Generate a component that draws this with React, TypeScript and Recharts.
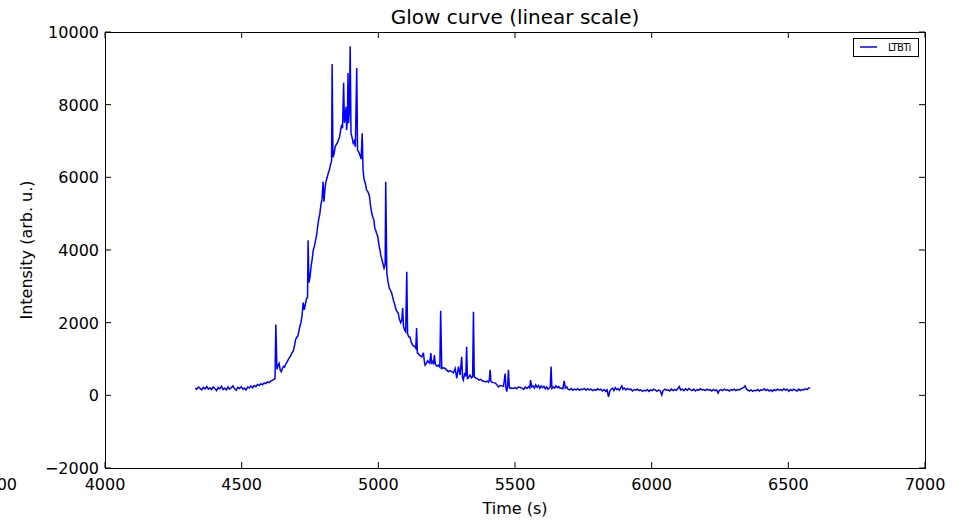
import { LineChart, Line, XAxis, YAxis, Legend } from 'recharts'

// [time (s), intensity (arb. u.)], split by curve region
const PRE_RISE: [number, number][] = [
  [4330, 200], [4336, 170], [4342, 230], [4348, 190], [4354, 150], [4360, 220], [4366, 180],
  [4372, 240], [4378, 170], [4384, 210], [4390, 160], [4396, 230], [4402, 190], [4408, 130],
  [4414, 220], [4420, 180], [4426, 250], [4432, 160], [4438, 200], [4444, 150], [4450, 230],
  [4456, 170], [4462, 210], [4468, 260], [4474, 180], [4480, 140], [4486, 220], [4492, 190],
  [4498, 240], [4504, 170], [4510, 200], [4516, 150], [4522, 230], [4528, 200], [4534, 260],
  [4540, 210], [4546, 270], [4552, 240], [4558, 300], [4564, 270], [4570, 320], [4576, 290],
  [4582, 340], [4588, 320], [4594, 370], [4600, 350], [4606, 390], [4612, 410], [4618, 440],
  [4622, 460],
]

const RISE: [number, number][] = [
  [4625, 1950], [4629, 720], [4633, 820], [4637, 880], [4641, 700], [4645, 650], [4649, 740],
  [4653, 800], [4657, 780], [4661, 860], [4665, 900], [4669, 960], [4673, 1020], [4677, 1060],
  [4681, 1120], [4685, 1180], [4689, 1220], [4693, 1350], [4697, 1520], [4701, 1600],
  [4705, 1620], [4709, 1750], [4713, 1900], [4717, 2000], [4721, 2200], [4725, 2550],
  [4729, 2350], [4733, 2500], [4737, 2650], [4741, 2700], [4743, 4270], [4746, 3100],
  [4750, 3250], [4754, 3550], [4758, 3750], [4762, 4000], [4766, 4100], [4770, 4250],
  [4774, 4400], [4778, 4650], [4782, 4850], [4786, 5000], [4790, 5250], [4794, 5400],
  [4798, 5880], [4801, 5330], [4805, 5700], [4809, 5900], [4813, 6000], [4817, 6120],
  [4821, 6200], [4825, 6350], [4829, 6450], [4831, 9120], [4834, 6550],
]

const PEAK: [number, number][] = [
  [4838, 6650], [4842, 6840], [4846, 6900], [4850, 6950], [4854, 7030], [4858, 7100],
  [4862, 7300], [4866, 7450], [4869, 7350], [4873, 8600], [4876, 7500], [4879, 7650],
  [4882, 7940], [4884, 7300], [4887, 7600], [4889, 8870], [4891, 7490], [4894, 7800],
  [4897, 9610], [4900, 7210], [4904, 7100], [4908, 6940], [4912, 7000], [4916, 6840],
  [4921, 9010], [4924, 6750], [4928, 6700], [4933, 6610], [4937, 6500], [4941, 7210],
  [4944, 6200], [4948, 5930], [4952, 5850], [4957, 5650], [4962, 5600], [4967, 5500],
]

const DECAY: [number, number][] = [
  [4971, 5250], [4976, 5010], [4980, 4900], [4984, 4820], [4987, 4600], [4990, 4550],
  [4994, 4450], [4998, 4370], [5002, 4150], [5006, 4000], [5009, 3850], [5012, 3770],
  [5016, 3650], [5021, 3500], [5025, 3600], [5027, 5880], [5031, 3370], [5035, 3150],
  [5040, 2950], [5044, 2900], [5049, 2810], [5055, 2620], [5060, 2500], [5065, 2350],
  [5069, 2300], [5073, 2260], [5077, 2100], [5082, 2000], [5086, 2070], [5089, 2400],
  [5092, 1900], [5096, 1800], [5100, 1750], [5104, 3400], [5107, 1700], [5111, 1610],
  [5116, 1600], [5121, 1450], [5126, 1380], [5130, 1350], [5134, 1340], [5137, 1300],
  [5140, 1850], [5143, 1160], [5147, 1150], [5151, 1100], [5155, 1080], [5159, 1060],
  [5165, 1170], [5168, 960], [5171, 830], [5176, 880], [5180, 950], [5183, 930],
  [5188, 880], [5192, 1160], [5195, 900], [5198, 930], [5202, 850], [5205, 1110],
  [5208, 880], [5211, 830], [5215, 800], [5220, 830], [5225, 780], [5228, 2330],
  [5232, 740], [5238, 760], [5244, 740], [5250, 700], [5256, 650], [5262, 680],
  [5269, 650], [5275, 620], [5281, 740], [5287, 470], [5293, 790], [5299, 560],
  [5305, 1060], [5308, 480], [5311, 420], [5316, 620], [5320, 520], [5323, 1340],
  [5326, 460], [5329, 470], [5335, 560], [5341, 480], [5345, 520], [5348, 2300],
  [5351, 510], [5356, 480], [5362, 460], [5368, 420], [5374, 440], [5380, 400],
  [5386, 390], [5392, 370], [5398, 390], [5403, 360], [5406, 420], [5409, 700],
  [5412, 380], [5416, 360], [5421, 350], [5427, 340], [5433, 300], [5439, 230],
  [5445, 270], [5452, 260], [5458, 250], [5464, 600], [5467, 200], [5470, 100],
  [5473, 240], [5476, 700], [5479, 250], [5482, 190], [5488, 200], [5494, 190],
  [5500, 210], [5506, 180], [5512, 230], [5518, 220],
]

const TAIL: [number, number][] = [
  [5525, 200], [5532, 170], [5538, 230], [5544, 190], [5550, 240], [5554, 200], [5557, 420],
  [5561, 230], [5566, 260], [5571, 200], [5576, 290], [5581, 220], [5586, 270], [5591, 190],
  [5596, 260], [5601, 210], [5606, 250], [5611, 180], [5616, 230], [5621, 170], [5626, 210],
  [5629, 230], [5632, 790], [5635, 190], [5640, 230], [5645, 200], [5650, 260], [5655, 210],
  [5660, 240], [5665, 190], [5670, 200], [5675, 180], [5680, 400], [5684, 200], [5689, 230],
  [5694, 170], [5700, 150], [5706, 190], [5712, 140], [5718, 170], [5724, 150], [5730, 180],
  [5736, 140], [5742, 170], [5748, 160], [5754, 190], [5760, 140], [5766, 180], [5772, 150],
  [5778, 170], [5784, 130], [5790, 160], [5796, 140], [5802, 180], [5808, 150], [5814, 170],
  [5820, 120], [5826, 160], [5832, 110], [5837, 150], [5842, -40], [5847, 120], [5852, 170],
  [5857, 200], [5862, 130], [5867, 210], [5872, 160], [5877, 180], [5882, 140], [5887, 210],
  [5891, 260], [5895, 170], [5900, 200], [5906, 150], [5912, 190], [5918, 160], [5924, 170],
  [5930, 120], [5936, 160], [5942, 140], [5948, 170], [5954, 130], [5960, 150], [5966, 110],
  [5972, 140], [5978, 120], [5984, 160], [5990, 110], [5996, 150], [6002, 130], [6008, 170],
  [6014, 140], [6020, 110], [6026, 150], [6032, 120], [6037, 10], [6042, 130], [6048, 170],
  [6054, 140], [6060, 150], [6066, 120], [6072, 170], [6078, 130], [6084, 160], [6090, 140],
  [6096, 190], [6101, 240], [6106, 150], [6112, 170], [6118, 130], [6124, 180], [6130, 140],
  [6136, 190], [6142, 150], [6148, 130], [6154, 170], [6160, 120], [6166, 160], [6172, 140],
  [6178, 180], [6184, 150], [6190, 160], [6196, 130], [6202, 170], [6208, 140], [6214, 150],
  [6220, 120], [6226, 160], [6232, 130], [6238, 150], [6243, 60], [6248, 140], [6254, 160],
  [6260, 130], [6266, 170], [6272, 140], [6278, 150], [6284, 120], [6290, 160], [6296, 140],
  [6302, 170], [6308, 130], [6314, 160], [6320, 150], [6326, 180], [6332, 200], [6337, 220],
  [6342, 260], [6347, 170], [6352, 140], [6358, 120], [6364, 150], [6370, 110], [6376, 140],
  [6382, 130], [6388, 160], [6394, 120], [6400, 150], [6406, 140], [6412, 180], [6418, 130],
  [6424, 160], [6430, 120], [6436, 150], [6442, 110], [6448, 160], [6454, 130], [6460, 170],
  [6466, 140], [6472, 160], [6478, 130], [6484, 180], [6490, 140], [6496, 170], [6502, 110],
  [6508, 160], [6514, 130], [6520, 170], [6526, 140], [6532, 120], [6538, 170], [6544, 130],
  [6550, 160], [6556, 150], [6562, 180], [6568, 160], [6574, 200], [6580, 210],
]

const X_TICKS = [4000, 4500, 5000, 5500, 6000, 6500, 7000]
const Y_TICKS = [-2000, 0, 2000, 4000, 6000, 8000, 10000]

const glowData = [...PRE_RISE, ...RISE, ...PEAK, ...DECAY, ...TAIL].map(([t, v]) => ({ t, LTBTi: v }))

// plot box in page pixels
const W = 958
const H = 520
const PLOT = { left: 105, top: 32, right: 925, bottom: 468 }
const FONT = '"DejaVu Sans", sans-serif'
const TICK_LEN = 6
const BLUE = '#0000ff'

const fmt = (v: number) => (v < 0 ? '\u2212' + Math.abs(v) : String(v))

function XTick({ x, payload }: any) {
  return (
    <g>
      <line x1={x} x2={x} y1={PLOT.bottom} y2={PLOT.bottom - TICK_LEN} stroke="#000" />
      <line x1={x} x2={x} y1={PLOT.top} y2={PLOT.top + TICK_LEN} stroke="#000" />
      <text x={x} y={PLOT.bottom + 22} textAnchor="middle" fontSize={16} fontFamily={FONT} fill="#000">
        {fmt(payload.value)}
      </text>
    </g>
  )
}

function YTick({ y, payload }: any) {
  return (
    <g>
      <line x1={PLOT.left} x2={PLOT.left + TICK_LEN} y1={y} y2={y} stroke="#000" />
      <line x1={PLOT.right} x2={PLOT.right - TICK_LEN} y1={y} y2={y} stroke="#000" />
      <text x={PLOT.left - 6} y={y + 6} textAnchor="end" fontSize={16} fontFamily={FONT} fill="#000">
        {fmt(payload.value)}
      </text>
    </g>
  )
}

function LegendBox() {
  return (
    <svg width={66} height={19} style={{ position: 'absolute', left: 853, top: 38 }}>
      <rect x={0.5} y={0.5} width={65} height={18} fill="#fff" stroke="#000" />
      <line x1={7} x2={24} y1={9} y2={9} stroke={BLUE} strokeWidth={1.5} />
      <text x={35} y={13} fontSize={10} fontFamily={FONT} letterSpacing={-0.6} fill="#000">
        LTBTi
      </text>
    </svg>
  )
}

export default function App() {
  return (
    <div style={{ position: 'absolute', left: 0, top: 0, width: W, height: H, background: '#fff', overflow: 'hidden' }}>
      <LineChart
        width={W}
        height={H}
        data={glowData}
        margin={{ top: PLOT.top, right: W - PLOT.right, bottom: 0, left: 0 }}
      >
        <XAxis
          dataKey="t"
          type="number"
          domain={[4000, 7000]}
          ticks={X_TICKS}
          interval={0}
          allowDataOverflow
          axisLine={false}
          tickLine={false}
          tickSize={0}
          height={H - PLOT.bottom}
          tick={<XTick />}
        />
        <YAxis
          type="number"
          domain={[-2000, 10000]}
          ticks={Y_TICKS}
          interval={0}
          allowDataOverflow
          axisLine={false}
          tickLine={false}
          tickSize={0}
          width={PLOT.left}
          tick={<YTick />}
        />
        <Legend content={() => null} />
        <Line
          type="linear"
          dataKey="LTBTi"
          stroke={BLUE}
          strokeWidth={1.5}
          dot={false}
          isAnimationActive={false}
        />
      </LineChart>

      {/* axes frame */}
      <div
        style={{
          position: 'absolute',
          left: PLOT.left,
          top: PLOT.top,
          width: PLOT.right - PLOT.left + 1,
          height: PLOT.bottom - PLOT.top + 1,
          boxSizing: 'border-box',
          border: '1px solid #000',
          pointerEvents: 'none',
        }}
      />

      <svg width={W} height={H} style={{ position: 'absolute', left: 0, top: 0, pointerEvents: 'none' }}>
        <text x={(PLOT.left + PLOT.right) / 2} y={24} textAnchor="middle" fontSize={20} fontFamily={FONT} fill="#000">
          Glow curve (linear scale)
        </text>
        <text x={(PLOT.left + PLOT.right) / 2} y={514} textAnchor="middle" fontSize={16} fontFamily={FONT} fill="#000">
          Time (s)
        </text>
        <text
          x={32}
          y={250}
          transform="rotate(-90 32 250)"
          textAnchor="middle"
          fontSize={16}
          fontFamily={FONT}
          fill="#000"
        >
          Intensity (arb. u.)
        </text>
        {/* leftover tick label cut by the left edge, as in the original figure */}
        <text x={17} y={PLOT.bottom + 22} textAnchor="end" fontSize={16} fontFamily={FONT} fill="#000">
          3500
        </text>
      </svg>

      <LegendBox />
    </div>
  )
}
